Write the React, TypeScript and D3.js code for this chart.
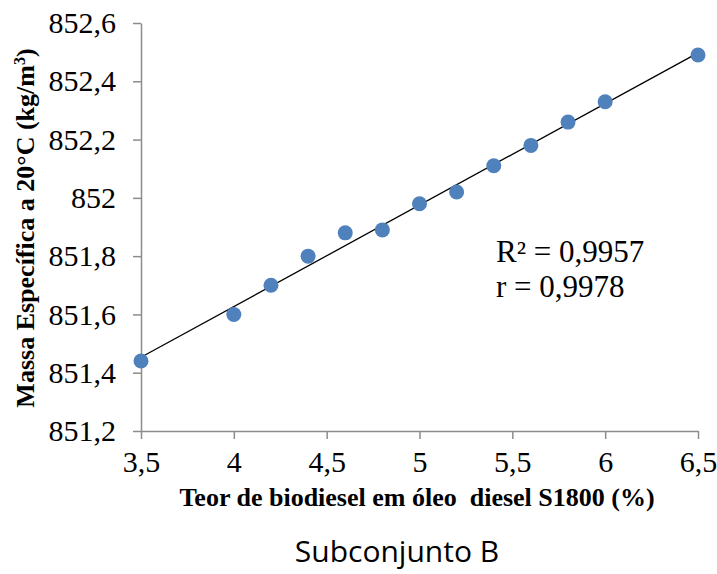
import React, { useEffect, useRef } from 'react';
import * as d3 from 'd3';

const teor = [3.5, 4.0, 4.2, 4.4, 4.6, 4.8, 5.0, 5.2, 5.4, 5.6, 5.8, 6.0, 6.5];
const massa = [851.44, 851.6, 851.7, 851.8, 851.88, 851.89, 851.98, 852.02, 852.11, 852.18, 852.26, 852.33, 852.49];
const xTicks = [3.5, 4, 4.5, 5, 5.5, 6, 6.5];
const yTicks = [851.2, 851.4, 851.6, 851.8, 852, 852.2, 852.4, 852.6];
const statLines = ['R² = 0,9957', 'r = 0,9978'];

const W = 717, H = 574;
const serif = '"Liberation Serif", "Times New Roman", serif';

const comma = (d: number) => String(+d.toFixed(1)).replace('.', ',');

const App = () => {
  const ref = useRef<SVGSVGElement | null>(null);

  useEffect(() => {
    if (!ref.current) return;
    const svg = d3.select(ref.current);
    svg.selectAll('*').remove();

    const margin = { left: 141, right: 19, top: 23, bottom: 143 };
    const x = d3.scaleLinear().domain([3.5, 6.5]).range([margin.left, W - margin.right]);
    const y = d3.scaleLinear().domain([851.2, 852.6]).range([H - margin.bottom, margin.top]);

    const axisColor = '#8c8c8c';

    // y axis
    const gy = svg.append('g')
      .attr('transform', `translate(${margin.left},0)`)
      .call(d3.axisLeft(y).tickValues(yTicks).tickFormat(d => comma(+d)).tickSize(8).tickSizeOuter(0).tickPadding(17));
    gy.select('.domain').attr('stroke', axisColor).attr('stroke-width', 1.5);
    gy.selectAll('.tick line').attr('stroke', axisColor).attr('stroke-width', 1.5);
    gy.selectAll('.tick text').attr('font-family', serif).attr('font-size', 30).attr('fill', '#000');

    // x axis
    const gx = svg.append('g')
      .attr('transform', `translate(0,${H - margin.bottom})`)
      .call(d3.axisBottom(x).tickValues(xTicks).tickFormat(d => comma(+d)).tickSize(8).tickSizeOuter(0).tickPadding(12));
    gx.select('.domain').attr('stroke', axisColor).attr('stroke-width', 1.5);
    gx.selectAll('.tick line').attr('stroke', axisColor).attr('stroke-width', 1.5);
    gx.selectAll('.tick text').attr('font-family', serif).attr('font-size', 30).attr('fill', '#000');

    // linear trend from the data
    const mx = d3.mean(teor)!, my = d3.mean(massa)!;
    const slope = d3.sum(teor, (t, i) => (t - mx) * (massa[i] - my)) / d3.sum(teor, t => (t - mx) ** 2);
    const intercept = my - slope * mx;
    const trend = d3.line<number>().x(t => x(t)).y(t => y(intercept + slope * t));
    svg.append('path')
      .attr('d', trend([3.5, 6.5]))
      .attr('fill', 'none')
      .attr('stroke', '#000')
      .attr('stroke-width', 1.3);

    svg.selectAll('.dot')
      .data(teor)
      .enter()
      .append('circle')
      .attr('class', 'dot')
      .attr('cx', d => x(d))
      .attr('cy', (d, i) => y(massa[i]))
      .attr('r', 7.5)
      .attr('fill', '#4f81bd');

    svg.selectAll('.stat')
      .data(statLines)
      .enter()
      .append('text')
      .attr('class', 'stat')
      .attr('x', 496)
      .attr('y', (d, i) => 262 + i * 35)
      .attr('font-family', serif)
      .attr('font-size', 31)
      .text(d => d);

    const yTitle = svg.append('text')
      .attr('transform', `translate(34,${(margin.top + H - margin.bottom) / 2 + 1}) rotate(-90)`)
      .attr('text-anchor', 'middle')
      .attr('font-family', serif)
      .attr('font-weight', 'bold')
      .attr('font-size', 26);
    yTitle.append('tspan').text('Massa Específica a 20°C (kg/m');
    yTitle.append('tspan').attr('dy', -9).attr('font-size', 16).text('3');
    yTitle.append('tspan').attr('dy', 9).text(')');

    svg.append('text')
      .attr('x', 417)
      .attr('y', 506)
      .attr('text-anchor', 'middle')
      .attr('font-family', serif)
      .attr('font-weight', 'bold')
      .attr('font-size', 26)
      .style('white-space', 'pre')
      .text('Teor de biodiesel em óleo  diesel S1800 (%)');

    svg.append('text')
      .attr('x', 397)
      .attr('y', 562)
      .attr('text-anchor', 'middle')
      .attr('font-family', '"Open Sans", "Noto Sans", sans-serif')
      .attr('font-size', 30)
      .text('Subconjunto B');
  }, []);

  return (
    <svg ref={ref} width={W} height={H} style={{ position: 'absolute', left: 0, top: 0, background: '#fff' }} />
  );
};

export default App;
